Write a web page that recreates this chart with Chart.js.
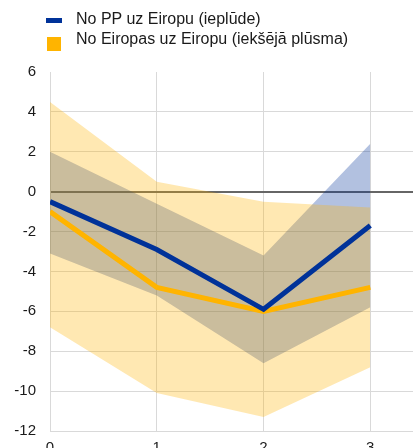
<!DOCTYPE html>
<html>
<head>
<meta charset="utf-8">
<script src="https://cdn.jsdelivr.net/npm/chart.js@4/dist/chart.umd.min.js"></script>
<style>
  body { margin: 0; background: #fff; }
  #wrap { position: relative; width: 413px; height: 448px; }
  #legend { position: absolute; left: 0; top: 0; font-family: "Liberation Sans", Arial, sans-serif; font-size: 16px; color: #1a1a1a; }
  .item { position: absolute; white-space: nowrap; }
  .box { position: absolute; }
</style>
</head>
<body>
<div id="wrap">
  <canvas id="chart" width="413" height="448"></canvas>
  <div id="legend"></div>
</div>
<script>
const periods = [0, 1, 2, 3];
const yTicks = [-12, -10, -8, -6, -4, -2, 0, 2, 4, 6];
const seriesNames = ["No PP uz Eiropu (ieplūde)", "No Eiropas uz Eiropu (iekšējā plūsma)"];

// central estimates
const ppInflow = [-0.5, -2.9, -5.9, -1.7];
const euInternal = [-1.0, -4.8, -6.0, -4.8];
// confidence bands
const ppUpper = [2.0, -0.6, -3.2, 2.4];
const ppLower = [-3.1, -5.2, -8.6, -5.8];
const euUpper = [4.5, 0.5, -0.5, -0.8];
const euLower = [-6.8, -10.1, -11.3, -8.8];

const blue = "#003299";
const orange = "#ffb400";

function pts(vals) {
  return periods.map((p, i) => ({ x: p, y: vals[i] }));
}

function band(vals, color, fill, order) {
  return {
    data: pts(vals),
    borderWidth: 0,
    pointRadius: 0,
    backgroundColor: color,
    fill: fill,
    order: order,
    tension: 0
  };
}

// html legend
const legend = document.getElementById("legend");
legend.innerHTML =
  '<div class="box" style="left:46px;top:18px;width:16px;height:5px;background:' + blue + '"></div>' +
  '<div class="item" style="left:76px;top:10px">' + seriesNames[0] + '</div>' +
  '<div class="box" style="left:47px;top:37px;width:14px;height:14px;background:' + orange + '"></div>' +
  '<div class="item" style="left:76px;top:30px">' + seriesNames[1] + '</div>';

const ctx = document.getElementById("chart").getContext("2d");

new Chart(ctx, {
  type: "line",
  data: {
    datasets: [
      {
        label: seriesNames[0],
        data: pts(ppInflow),
        borderColor: blue,
        borderWidth: 5,
        pointRadius: 0,
        fill: false,
        order: 0
      },
      {
        label: seriesNames[1],
        data: pts(euInternal),
        borderColor: orange,
        borderWidth: 5,
        pointRadius: 0,
        fill: false,
        order: 1
      },
      band(euUpper, "rgba(255,180,0,0.3)", false, 2),
      band(euLower, "rgba(255,180,0,0.3)", "-1", 3),
      band(ppUpper, "rgba(0,50,153,0.3)", false, 4),
      band(ppLower, "rgba(0,50,153,0.3)", "-1", 5)
    ]
  },
  options: {
    responsive: false,
    animation: false,
    layout: { padding: { top: 72, left: 0, right: 0, bottom: 0 } },
    plugins: {
      legend: { display: false },
      tooltip: { enabled: false }
    },
    scales: {
      x: {
        type: "linear",
        min: 0,
        max: 3.4,
        afterBuildTicks: axis => {
          axis.ticks = periods.map(v => ({ value: v }));
        },
        afterFit: scale => { scale.height = 17; },
        grid: { color: "#d9d9d9", drawTicks: false },
        border: { display: false },
        ticks: {
          padding: 8,
          color: "#1a1a1a",
          font: { family: "Liberation Sans", size: 15 }
        }
      },
      y: {
        min: -12,
        max: 6,
        afterBuildTicks: axis => {
          axis.ticks = yTicks.map(v => ({ value: v }));
        },
        afterFit: scale => {
          scale.width = 50;
          // don't let the label padding push the plot up from the bottom
          scale.paddingTop = 0;
          scale.paddingBottom = 0;
        },
        grid: {
          drawTicks: false,
          color: c => c.tick.value === 0 ? "#666666" : (c.tick.value === 6 ? "rgba(0,0,0,0)" : "#d9d9d9"),
          lineWidth: c => c.tick.value === 0 ? 2 : 1
        },
        border: { display: true, color: "#d9d9d9" },
        ticks: {
          padding: 14,
          color: "#1a1a1a",
          font: { family: "Liberation Sans", size: 15 }
        }
      }
    }
  }
});
</script>
</body>
</html>
